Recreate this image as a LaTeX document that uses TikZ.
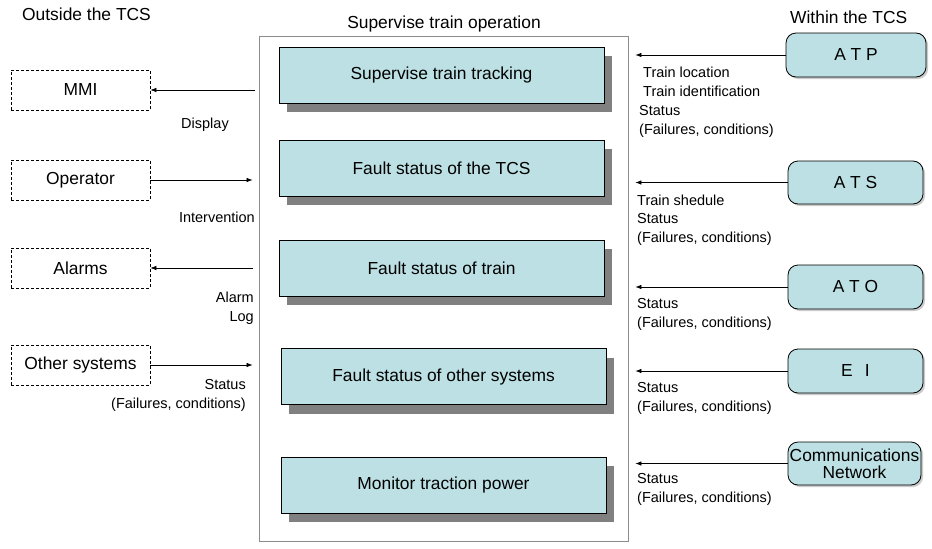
\documentclass[tikz,border=0pt]{standalone}
\usepackage{fontspec}
\setmainfont{Liberation Sans}
\usetikzlibrary{arrows.meta,shadows}
\definecolor{boxcyan}{RGB}{188,224,227}
\definecolor{shadowgray}{RGB}{128,128,128}
\definecolor{framegray}{RGB}{140,140,140}
\begin{document}
\begin{tikzpicture}[x=1pt, y=-1pt,
  big/.style={font=\fontsize{17.4}{17}\selectfont},
  lbl/.style={font=\fontsize{14.5}{18.5}\selectfont, inner sep=0pt, align=left},
  func/.style={big, draw, line width=0.8pt, fill=boxcyan, minimum width=325pt, minimum height=56pt,
    drop shadow={shadow xshift=8pt, shadow yshift=-9pt, fill=shadowgray, opacity=1}},
  ext/.style={big, draw, dashed, dash pattern=on 3pt off 2pt, line width=0.7pt, minimum width=139pt, minimum height=40pt},
  sub/.style={big, draw, line width=0.8pt, rounded corners=10pt, fill=boxcyan, minimum width=135pt, minimum height=44pt,
    drop shadow={shadow xshift=2pt, shadow yshift=-2pt, fill=gray!70, opacity=0.6}},
  arr/.style={-{Latex[length=6pt, width=4.5pt]}, line width=0.7pt}]

  \useasboundingbox (0,0) rectangle (932,549);

  % Headings
  \node[big, anchor=base west, inner sep=0pt] (outside) at (22,20) {Outside the TCS};
  \node[big, anchor=base, inner sep=0pt] (title) at (444,28) {Supervise train operation};
  \node[big, anchor=base west, inner sep=0pt] (within) at (790,23) {Within the TCS};

  % Frame of the function
  \node[draw=framegray, line width=0.8pt, minimum width=369pt, minimum height=505pt] (sup) at (443.5,288.5) {};

  % Sub-functions
  \node[func] (track) at (441.5,75) {Supervise train tracking};
  \node[func] (tcs) at (441.5,168) {Fault status of the TCS};
  \node[func] (train) at (441.5,268) {Fault status of train};
  \node[func] (other) at (443.5,376.5) {Fault status of other systems};
  \node[func] (power) at (443.5,485) {Monitor traction power};

  % Outside the TCS
  \node[ext] (mmi) at (80.5,90) {MMI};
  \node[ext] (oper) at (80.5,180) {Operator};
  \node[ext] (alarms) at (80.5,268) {Alarms};
  \node[ext] (osys) at (80.5,365) {Other systems};

  \draw[arr, shorten <=4pt] (mmi.east -| sup.west) -- (mmi.east);
  \draw[arr, shorten >=6pt] (oper.east) -- (oper.east -| sup.west);
  \draw[arr, shorten <=6pt] (alarms.east -| sup.west) -- (alarms.east);
  \draw[arr, shorten >=6pt] (osys.east) -- (osys.east -| sup.west);

  % (base of a multi-line label = its last line)
  \node[lbl, anchor=base] (display) at (205,128) {Display};
  \node[lbl, anchor=base east] (interv) at (255,222) {Intervention};
  \node[lbl, anchor=base east, align=right] (alarmlog) at (254,321) {Alarm\\Log};
  \node[lbl, anchor=base east, align=right] (ostat) at (246,408) {Status\\(Failures, conditions)};

  % Within the TCS
  \node[sub, minimum width=140pt] (atp) at (856,55) {A T P};
  \node[sub, minimum height=43pt] (ats) at (855.5,182.5) {A T S};
  \node[sub] (ato) at (855.5,287) {A T O};
  \node[sub] (ei) at (855.5,371) {E\hspace{0.7em}I};
  \node[sub, minimum width=133pt, minimum height=43pt, align=center, inner sep=0pt] (comm) at (854.5,463.5) {Communications\\Network};

  \foreach \s in {atp,ats,ato,ei,comm}
    \draw[arr, shorten >=7pt] (\s.west) -- (\s.west -| sup.east);

  \node[lbl, anchor=base west] (atpinfo) at (643,96) {Train location\\Train identification};
  \node[lbl, anchor=base west] (atpstat) at (639,134) {Status\\(Failures, conditions)};
  \node[lbl, anchor=base west] (atsinfo) at (637,242) {Train shedule\\Status\\(Failures, conditions)};
  \node[lbl, anchor=base west] (atostat) at (637,327) {Status\\(Failures, conditions)};
  \node[lbl, anchor=base west] (eistat) at (637,411) {Status\\(Failures, conditions)};
  \node[lbl, anchor=base west] (commstat) at (637,502) {Status\\(Failures, conditions)};

\end{tikzpicture}
\end{document}
